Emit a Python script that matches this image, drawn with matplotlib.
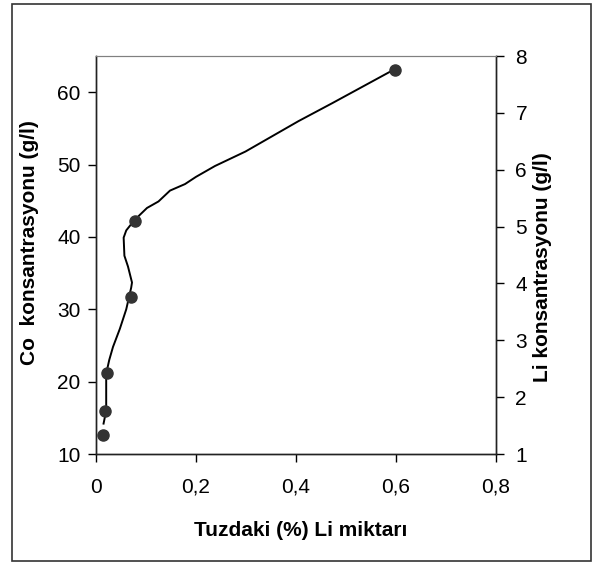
import matplotlib
matplotlib.use("Agg")
import matplotlib.pyplot as plt
from matplotlib.patches import Rectangle
from matplotlib.ticker import FuncFormatter

plt.rcParams['font.family'] = ['Liberation Sans', 'DejaVu Sans']

# measured points (Tuzdaki % Li, Co g/l)
li_pct = [0.0146, 0.018, 0.0226, 0.070, 0.0786, 0.598]
co_gl = [12.6, 16.0, 21.2, 31.7, 42.2, 63.1]

# smoothed trend line
line_x = [0.0151, 0.0204, 0.0204, 0.0265, 0.034, 0.0477, 0.0605, 0.0704, 0.072,
          0.064, 0.0568, 0.0553, 0.0605, 0.072, 0.087, 0.102, 0.125, 0.148,
          0.178, 0.200, 0.238, 0.299, 0.405, 0.473, 0.598]
line_y = [14.2, 16.0, 21.1, 23.0, 24.8, 27.3, 30.0, 33.0, 33.7,
          35.9, 37.4, 39.9, 40.9, 41.9, 43.0, 44.0, 44.9, 46.4,
          47.3, 48.3, 49.8, 51.8, 56.0, 58.5, 63.2]

x_ticks = [0, 0.2, 0.4, 0.6, 0.8]
co_ticks = [10, 20, 30, 40, 50, 60]
li_ticks = [1, 2, 3, 4, 5, 6, 7, 8]

fs = 15

fig = plt.figure(figsize=(5.93, 5.63), dpi=100)
ax = fig.add_axes([96/593, 1-454/563, 400/593, 398/563])

ax.plot(line_x, line_y, color="black", lw=1.4, zorder=2)
ax.plot(li_pct, co_gl, "o", color="#333333", ms=8, zorder=3)

ax.set_xlim(0, 0.8)
ax.set_ylim(10, 65)
ax.set_xticks(x_ticks)
ax.set_yticks(co_ticks)
ax.xaxis.set_major_formatter(FuncFormatter(lambda v, p: ("%g" % v).replace(".", ",")))
ax.tick_params(direction="out", length=6, width=1, labelsize=fs, colors="black")
ax.tick_params(axis="x", pad=11)
ax.tick_params(axis="y", pad=5)

ax2 = ax.twinx()
ax2.set_ylim(1, 8)
ax2.set_yticks(li_ticks)
ax2.tick_params(direction="out", length=6, width=1, labelsize=fs, pad=8)

for a in (ax, ax2):
    a.spines["top"].set_color("#808080")
    for s in ("left", "bottom", "right"):
        a.spines[s].set_color("#222222")
        a.spines[s].set_linewidth(1)

fig.text(301/593, 1-530/563, "Tuzdaki (%) Li miktarı", fontsize=fs, fontweight="bold",
         ha="center", va="center")
fig.text(30/593, 1-243/563, "Co  konsantrasyonu (g/l)", fontsize=fs, fontweight="bold",
         rotation=90, ha="center", va="center")
fig.text(542/593, 1-267/563, "Li konsantrasyonu (g/l)", fontsize=fs, fontweight="bold",
         rotation=90, ha="center", va="center")

fig.patches.append(Rectangle((12/593, 2/563), 579/593, 557/563, transform=fig.transFigure,
                             fill=False, edgecolor="#333333", lw=1.2))

fig.savefig("out.png", dpi=100)
